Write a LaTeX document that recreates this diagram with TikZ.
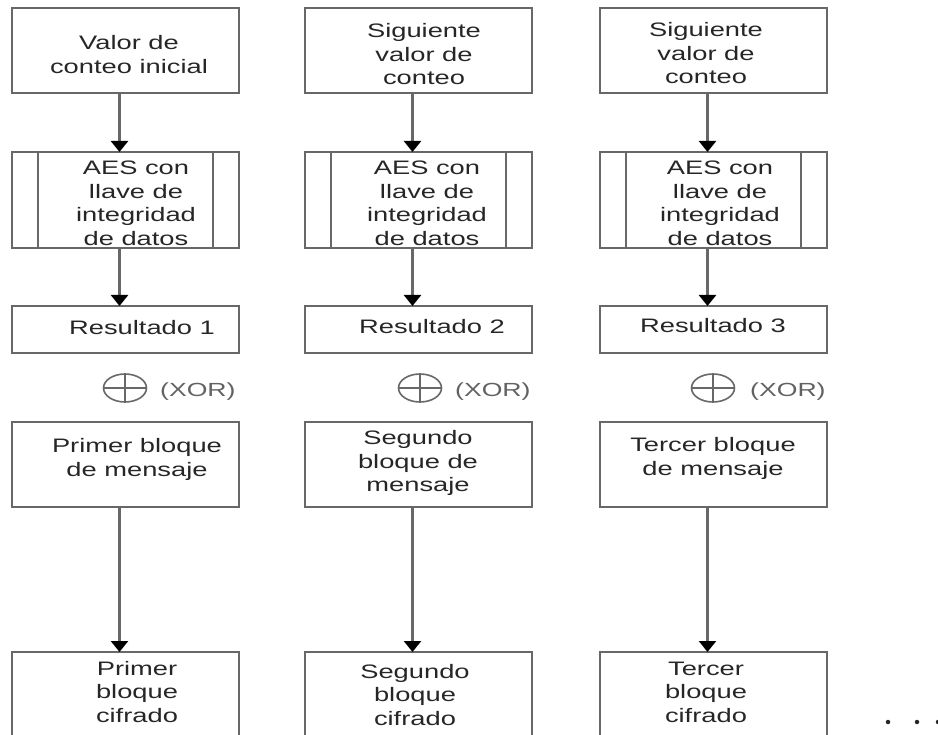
\documentclass[tikz,border=0pt]{standalone}
\usepackage{fontspec}
\setmainfont{Liberation Sans}[FakeStretch=1.4]
\usetikzlibrary{arrows.meta,shapes.geometric}
\definecolor{edge}{HTML}{686868}
\definecolor{ink}{HTML}{262626}
\definecolor{xorgray}{HTML}{626262}
% multi-line label whose baseline is that of its first line
\newcommand{\stacklines}[1]{\begin{tabular}[t]{@{}c@{}}#1\end{tabular}}
\tikzset{
  box/.style={draw=edge, line width=2.4pt, rectangle, inner sep=0pt, outer sep=0pt, minimum width=227pt},
  bar/.style={draw=edge, line width=2.2pt},
  lbl/.style={anchor=base, inner sep=0pt, text=ink, font=\fontsize{19.5}{23.5}\selectfont},
  flow/.style={draw=edge, line width=2.4pt, -{Triangle[width=17pt,length=11pt,color=black,fill=black]}},
  xorsym/.style={draw=edge, line width=1.6pt, ellipse, inner sep=0pt, outer sep=0pt, minimum width=43pt, minimum height=28pt},
  xorlbl/.style={anchor=base west, inner sep=0pt, text=xorgray, font=\fontsize{19}{22}\selectfont},
  dotmark/.style={circle, fill=ink, inner sep=0pt, minimum size=4.5pt},
}
\begin{document}
\begin{tikzpicture}[x=1pt, y=-1pt]
\useasboundingbox (0,0) rectangle (938,735);
\clip (0,0) rectangle (938,735);

% boxes of the three columns
\foreach \c/\x in {1/125.5, 2/418.5, 3/713.5}{
  \node[box, minimum height=85pt] (cnt\c) at (\x,50.5) {};
  \node[box, minimum height=96pt] (aes\c) at (\x,200) {};
  \node[box, minimum height=47pt] (res\c) at (\x,329.5) {};
  \node[box, minimum height=85pt] (msg\c) at (\x,464.5) {};
  \node[box, minimum height=100pt] (cif\c) at (\x,702) {};
  % side bars of the AES block
  \draw[bar] ([xshift=26pt]aes\c.north west) -- ([xshift=26pt]aes\c.south west);
  \draw[bar] ([xshift=-26pt]aes\c.north east) -- ([xshift=-26pt]aes\c.south east);
  % connectors
  \draw[flow] ([xshift=-6pt]cnt\c.south) -- ([xshift=-6pt]aes\c.north);
  \draw[flow] ([xshift=-6pt]aes\c.south) -- ([xshift=-6pt]res\c.north);
  \draw[flow] ([xshift=-6pt]msg\c.south) -- ([xshift=-6pt]cif\c.north);
}

% texts, column 1
\node[lbl] (tcnt1) at (129,50) {\stacklines{Valor de\\conteo inicial}};
\node[lbl] (taes1) at (136,175) {\stacklines{AES con\\llave de\\integridad\\de datos}};
\node[lbl] (tres1) at (142,335) {Resultado 1};
\node[lbl] (tmsg1) at (137,453) {\stacklines{Primer bloque\\de mensaje}};
\node[lbl] (tcif1) at (137,675) {\stacklines{Primer\\bloque\\cifrado}};

% texts, column 2
\node[lbl] (tcnt2) at (424,38) {\stacklines{Siguiente\\valor de\\conteo}};
\node[lbl] (taes2) at (427,175) {\stacklines{AES con\\llave de\\integridad\\de datos}};
\node[lbl] (tres2) at (432,334) {Resultado 2};
\node[lbl] (tmsg2) at (418,445) {\stacklines{Segundo\\bloque de\\mensaje}};
\node[lbl] (tcif2) at (415,678) {\stacklines{Segundo\\bloque\\cifrado}};

% texts, column 3
\node[lbl] (tcnt3) at (706,37) {\stacklines{Siguiente\\valor de\\conteo}};
\node[lbl] (taes3) at (720,175) {\stacklines{AES con\\llave de\\integridad\\de datos}};
\node[lbl] (tres3) at (713,333) {Resultado 3};
\node[lbl] (tmsg3) at (713,452) {\stacklines{Tercer bloque\\de mensaje}};
\node[lbl] (tcif3) at (706,675) {\stacklines{Tercer\\bloque\\cifrado}};

% XOR operators
\foreach \c/\x/\lx in {1/125/160, 2/420/455, 3/713/750}{
  \node[xorsym] (xor\c) at (\x,388) {};
  \draw[draw=edge, line width=1.6pt] (xor\c.north) -- (xor\c.south);
  \draw[draw=edge, line width=1.6pt] (xor\c.west) -- (xor\c.east);
  \node[xorlbl] (xorl\c) at (\lx,397) {(XOR)};
}

% continuation dots
\node[dotmark] (dot1) at (888,722) {};
\node[dotmark] (dot2) at (917,722) {};
\node[dotmark] (dot3) at (938,722) {};
\end{tikzpicture}
\end{document}
